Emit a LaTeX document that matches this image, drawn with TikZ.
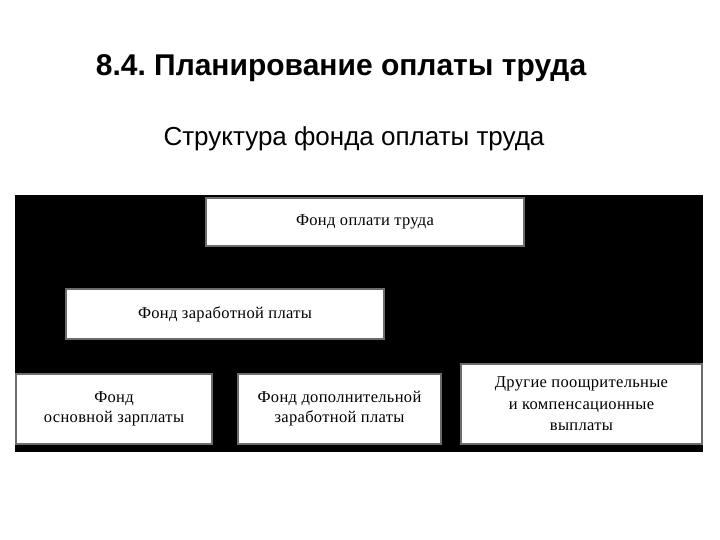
\documentclass[tikz,border=0pt]{standalone}
\usepackage{fontspec}
\setmainfont{Liberation Serif}[LetterSpace=2]
\newfontfamily\headfont{Liberation Sans}
\usetikzlibrary{arrows.meta}
\frenchspacing
\tikzset{
  fundbox/.style={draw=gray!85!black, line width=2.2pt, fill=white, inner sep=0pt,
    font=\fontsize{16.5}{20}\selectfont, align=center},
  conn/.style={draw=black, line width=0.8pt, -{Stealth[length=4pt]}},
}
\begin{document}
\begin{tikzpicture}[x=1pt,y=-1pt]
\useasboundingbox (0,0) rectangle (720,540);
\fill[white] (0,0) rectangle (720,540);
\node[font=\headfont\bfseries\fontsize{30}{34}\selectfont] (title) at (341,68) {8.4. Планирование оплаты труда};
\node[font=\headfont\fontsize{26}{30}\selectfont] (sub) at (354,139) {Структура фонда оплаты труда};
\fill[black] (15,195) rectangle (703,452);
\node[fundbox, minimum width=318pt, minimum height=48pt] (top) at (365,222) {Фонд оплати труда};
\node[fundbox, minimum width=318pt, minimum height=50pt] (zp) at (225,314) {Фонд заработной платы};
\node[fundbox, minimum width=196pt, minimum height=70pt] (osn) at (114,409) {Фонд\\основной зарплаты};
\node[fundbox, minimum width=203pt, minimum height=70pt] (dop) at (339.5,409) {Фонд дополнительной\\заработной платы};
\node[fundbox, minimum width=241pt, minimum height=80pt, font=\fontsize{16.5}{21.5}\selectfont] (oth) at (581.5,404) {Другие поощрительные\\и компенсационные\\выплаты};
\coordinate (bend) at (490,300);
\draw[conn] (top.south -| 273,0) -- (zp.north -| 273,0);
\draw[conn] (top.south -| bend) -- (bend) -| (oth.north -| 540,0);
\draw[conn] (zp.south -| 165,0) -- (osn.north -| 165,0);
\draw[conn] (zp.south -| 273,0) -- (dop.north -| 273,0);
\end{tikzpicture}
\end{document}
